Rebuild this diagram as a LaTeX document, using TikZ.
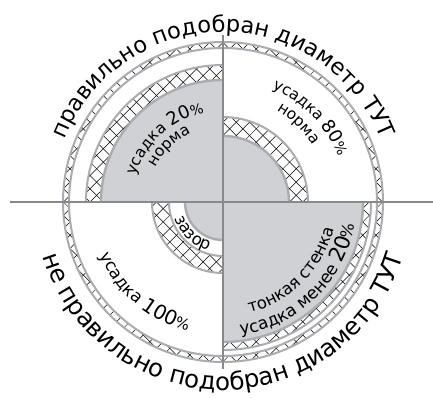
\documentclass[tikz,border=0pt]{standalone}
\usepackage{fontspec}
\setmainfont{DejaVu Sans}
\usetikzlibrary{decorations.text}
\definecolor{ringgray}{RGB}{170,172,176}
\definecolor{coregray}{RGB}{208,209,212}
\definecolor{axisgray}{RGB}{135,137,140}
\newcommand{\fsz}[1]{\fontsize{#1}{#1}\selectfont}
\tikzset{x=1pt,y=1pt,
  ringline/.style={draw=ringgray,line width=2pt},
  core/.style={fill=coregray,draw=ringgray,line width=2.4pt},
  axisline/.style={draw=axisgray,line width=2pt},
  hatchline/.style={draw=black,line width=0.5pt},
  curved/.style n args={2}{decorate,decoration={text along path,text align=center,
     text={|\fsz{#1}|#2}}},
}
\newcommand{\hatchfill}{%
  \foreach \k in {-40,...,40}{
    \draw[hatchline] (\k*13.3-300,-300) -- (\k*13.3+300,300);
    \draw[hatchline] (\k*13.3-300,300) -- (\k*13.3+300,-300);
  }}
\begin{document}\catcode`\%=12 
\begin{tikzpicture}
\useasboundingbox (-223,-195) rectangle (210,202);
\coordinate (c) at (0,0);
\begin{scope}\clip (c) circle (160);\hatchfill\end{scope}
\draw[ringline,fill=white] (c) circle (154);
\draw[ringline] (c) circle (160);
\begin{scope}
\clip (-153,0) rectangle (0,153);
\begin{scope}\clip (c) circle (137);\hatchfill\end{scope}
\draw[ringline] (c) circle (137);
\draw[core] (c) circle (122);
\end{scope}
\begin{scope}
\clip (0,0) rectangle (153,153);
\begin{scope}\clip (c) circle (85);\hatchfill\end{scope}
\draw[ringline] (c) circle (85);
\draw[core] (c) circle (66);
\end{scope}
\begin{scope}
\clip (-153,-153) rectangle (0,0);
\begin{scope}\clip (c) circle (71);\hatchfill\end{scope}
\draw[ringline] (c) circle (71);
\draw[ringline,fill=white] (c) circle (54);
\draw[core] (c) circle (38);
\end{scope}
\begin{scope}
\clip (0,-153) rectangle (153,0);
\begin{scope}\clip (c) circle (148);\hatchfill\end{scope}
\draw[ringline] (c) circle (148);
\draw[core] (c) circle (140);
\end{scope}
\coordinate (axl) at (-213,0);
\coordinate (axr) at (210,0);
\coordinate (axt) at (0,167);
\coordinate (axb) at (0,-167);
\draw[axisline] (axl) -- (axr);
\draw[axisline] (axt) -- (axb);
\path[curved={22.5}{правильно подобран диаметр ТУТ}] (158:170) arc[start angle=158,end angle=22,radius=170];
\path[curved={24.5}{не правильно подобран диаметр ТУТ}] (196:188) arc[start angle=196,end angle=344,radius=188];
\path[curved={15.5}{усадка |\fsz{18}|20|\fsz{14}|%}] (165:91) arc[start angle=165,end angle=100,radius=91];
\path[curved={15.5}{норма}] (165:76) arc[start angle=165,end angle=103,radius=76];
\path[curved={15.5}{усадка |\fsz{18}|80|\fsz{14}|%}] (75:124) arc[start angle=75,end angle=13,radius=124];
\path[curved={15.5}{норма}] (70:106) arc[start angle=70,end angle=22,radius=106];
\path[curved={17}{усадка |\fsz{20}|100|\fsz{15}|%}] (190:134) arc[start angle=190,end angle=268,radius=134];
\path[curved={16.5}{зазор}] (186:51) arc[start angle=186,end angle=266,radius=51];
\path[curved={17}{усадка менее |\fsz{21}|20|\fsz{16}|%}] (264:134) arc[start angle=264,end angle=364,radius=134];
\path[curved={16.5}{тонкая стенка}] (267:114) arc[start angle=267,end angle=363,radius=114];
\end{tikzpicture}\catcode`\%=14 
\end{document}
